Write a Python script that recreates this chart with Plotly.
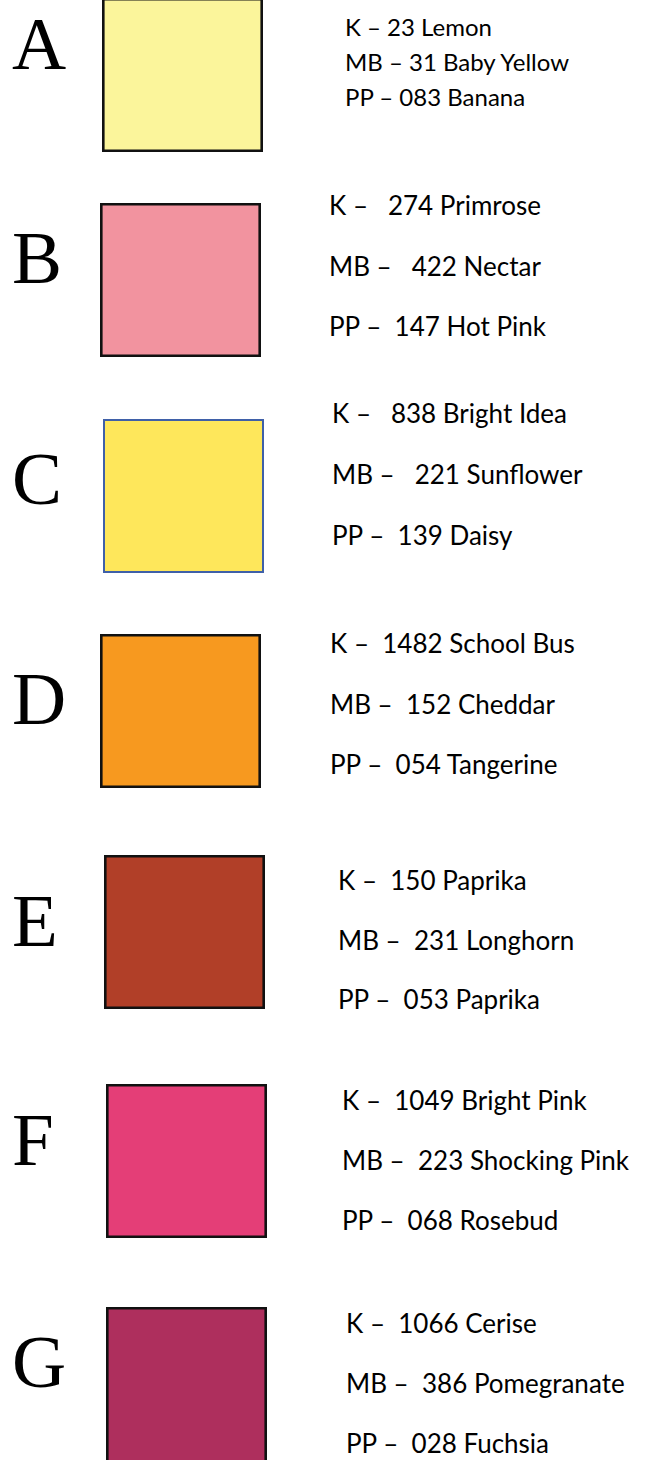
import plotly.graph_objects as go

# ---- data ----
letters = ["A", "B", "C", "D", "E", "F", "G"]
fill_colors = ["#FBF59B", "#F2939F", "#FEE75B", "#F7991F", "#B13F28", "#E43E77", "#AE2F5D"]
edge_colors = ["#111111", "#111111", "#3F60A8", "#111111", "#111111", "#111111", "#111111"]
k_labels = ["K – 23 Lemon", "K –   274 Primrose", "K –   838 Bright Idea", "K –  1482 School Bus",
            "K –  150 Paprika", "K –  1049 Bright Pink", "K –  1066 Cerise"]
mb_labels = ["MB – 31 Baby Yellow", "MB –   422 Nectar", "MB –   221 Sunflower", "MB –  152 Cheddar",
             "MB –  231 Longhorn", "MB –  223 Shocking Pink", "MB –  386 Pomegranate"]
pp_labels = ["PP – 083 Banana", "PP –  147 Hot Pink", "PP –  139 Daisy", "PP –  054 Tangerine",
             "PP –  053 Paprika", "PP –  068 Rosebud", "PP –  028 Fuchsia"]

# ---- layout (pixel space of the page) ----
W, H = 648, 1460
box_x0 = [102, 100, 103, 100, 104, 106, 106]
box_y0 = [-2, 203, 419, 634, 855, 1084, 1307]
box_w = 161
box_h = [154, 154, 154, 154, 154, 154, 160]
letter_y = [36, 257, 478, 698, 920, 1139, 1361]
text_x = [343, 327, 330, 328, 336, 340, 344]
text_y0 = [26, 205, 413, 643, 880, 1100, 1323]
line_gap = [35, 60.5, 61, 60.5, 59.5, 60, 60]
text_size = [24, 26, 26, 26, 26, 26, 26]
LETTER_SIZE = 75


def keep_spaces(s):
    out = []
    prev_space = False
    for ch in s:
        if ch == " " and prev_space:
            out.append("\u00a0")
        else:
            out.append(ch)
        prev_space = ch == " "
    return "".join(out).replace(" \u00a0", "\u00a0\u00a0")


fig = go.Figure()
fig.add_trace(go.Scatter(x=[0, W], y=[0, H], mode="markers",
                         marker=dict(opacity=0), hoverinfo="skip", showlegend=False))

shapes = []
annotations = []
for i, L in enumerate(letters):
    lw = 2.0 if i == 2 else 2.6
    shapes.append(dict(type="rect", xref="x", yref="y",
                       x0=box_x0[i] + lw / 2, x1=box_x0[i] + box_w - lw / 2,
                       y0=box_y0[i] + lw / 2, y1=box_y0[i] + box_h[i] - lw / 2,
                       fillcolor=fill_colors[i], line=dict(color=edge_colors[i], width=lw),
                       layer="above"))
    # keep the first letter's text box inside the page
    if letter_y[i] < LETTER_SIZE * 0.6:
        ly, yanc = 0, "top"
    else:
        ly, yanc = letter_y[i], "middle"
    annotations.append(dict(x=10, y=ly, xref="x", yref="y", text=L, showarrow=False,
                            xanchor="left", yanchor=yanc,
                            font=dict(family="Liberation Serif, Times New Roman, serif",
                                      size=LETTER_SIZE, color="#000000")))
    for j, lab in enumerate([k_labels[i], mb_labels[i], pp_labels[i]]):
        annotations.append(dict(x=text_x[i], y=text_y0[i] + j * line_gap[i],
                                xref="x", yref="y", text=keep_spaces(lab), showarrow=False,
                                xanchor="left", yanchor="middle",
                                font=dict(family="Lato, Open Sans, sans-serif",
                                          size=text_size[i], color="#000000")))

fig.update_layout(
    width=W, height=H,
    margin=dict(l=0, r=0, t=0, b=0, pad=0),
    paper_bgcolor="white", plot_bgcolor="white",
    xaxis=dict(range=[0, W], visible=False, fixedrange=True),
    yaxis=dict(range=[H, 0], visible=False, fixedrange=True),
    shapes=shapes, annotations=annotations,
    showlegend=False,
)

fig.write_html("out.html", config={"displayModeBar": False},
               post_script="document.body.style.margin='0';document.body.style.padding='0';")
